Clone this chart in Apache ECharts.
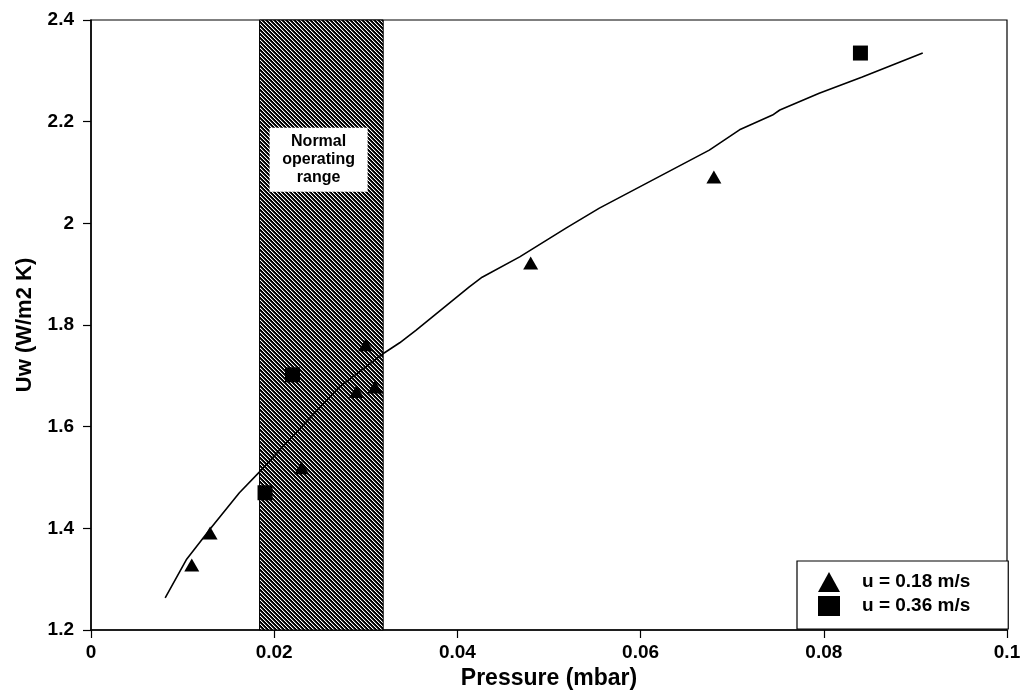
<!DOCTYPE html>
<html>
<head>
<meta charset="utf-8">
<script src="https://cdn.jsdelivr.net/npm/echarts@6/dist/echarts.min.js"></script>
<style>
html,body{margin:0;padding:0;background:#fff;}
#chart{width:1024px;height:695px;}
</style>
</head>
<body>
<div id="chart"></div>
<script>
// ---- data ----
var xTicks = [0, 0.02, 0.04, 0.06, 0.08, 0.1];
var yTicks = [1.2, 1.4, 1.6, 1.8, 2, 2.2, 2.4];
var seriesNames = ['u = 0.18 m/s', 'u = 0.36 m/s'];
var triX = [0.011, 0.013, 0.023, 0.029, 0.031, 0.030, 0.048, 0.068];
var triY = [1.328, 1.391, 1.519, 1.669, 1.678, 1.761, 1.922, 2.091];
var sqX = [0.019, 0.022, 0.084];
var sqY = [1.470, 1.702, 2.335];
var fitX = [0.0081, 0.0104, 0.0132, 0.0162, 0.0184, 0.0206, 0.0271, 0.0320, 0.0337, 0.0355, 0.0413, 0.0427, 0.0468, 0.0519, 0.0555, 0.0675, 0.0708, 0.0744, 0.0752, 0.0795, 0.0842, 0.0908];
var fitY = [1.263, 1.338, 1.403, 1.470, 1.511, 1.554, 1.678, 1.745, 1.765, 1.790, 1.875, 1.894, 1.934, 1.991, 2.030, 2.144, 2.184, 2.213, 2.223, 2.256, 2.288, 2.335];
var bandRange = [0.0184, 0.0319];
var bandLabel = 'Normal\noperating\nrange';
var labelBoxX = [0.0195, 0.0302];
var labelBoxY = [2.062, 2.188];

function zip(a, b) { return a.map(function (v, i) { return [v, b[i]]; }); }

// hatch pattern
var pc = document.createElement('canvas');
pc.width = 8; pc.height = 8;
var pctx = pc.getContext('2d');
var img = pctx.createImageData(8, 8);
for (var y = 0; y < 8; y++) {
  for (var x = 0; x < 8; x++) {
    var m = ((x - y) % 4 + 4) % 4;
    var v = m === 0 ? 255 : (m === 1 ? 70 : 0);
    var k = (y * 8 + x) * 4;
    img.data[k] = v; img.data[k + 1] = v; img.data[k + 2] = v; img.data[k + 3] = 255;
  }
}
pctx.putImageData(img, 0, 0);

var FONT = '"Liberation Sans", Arial, Helvetica, sans-serif';
var chart = echarts.init(document.getElementById('chart'), null, { renderer: 'canvas' });
chart.setOption({
  animation: false,
  backgroundColor: '#fff',
  textStyle: { fontFamily: FONT },
  grid: { left: 91, right: 17, top: 20, bottom: 65, show: true, borderColor: '#000', borderWidth: 1.2, backgroundColor: 'transparent' },
  xAxis: {
    type: 'value', min: xTicks[0], max: xTicks[xTicks.length - 1], interval: 0.02,
    name: 'Pressure (mbar)', nameLocation: 'middle', nameGap: 30,
    nameTextStyle: { fontSize: 23, fontWeight: 'bold', color: '#000', fontFamily: FONT },
    axisLine: { lineStyle: { color: '#000', width: 1.5 } },
    axisTick: { length: 8, lineStyle: { color: '#000', width: 1.2 } },
    axisLabel: { fontSize: 19, fontWeight: 'bold', color: '#000', margin: 13, fontFamily: FONT },
    splitLine: { show: false }
  },
  yAxis: {
    type: 'value', min: yTicks[0], max: yTicks[yTicks.length - 1], interval: 0.2,
    name: 'Uw (W/m2 K)', nameLocation: 'middle', nameGap: 55, nameRotate: 90,
    nameTextStyle: { fontSize: 22, fontWeight: 'bold', color: '#000', fontFamily: FONT },
    axisLine: { lineStyle: { color: '#000', width: 1.5 } },
    axisTick: { length: 8, lineStyle: { color: '#000', width: 1.2 } },
    axisLabel: { fontSize: 19, fontWeight: 'bold', color: '#000', margin: 17, fontFamily: FONT },
    splitLine: { show: false }
  },
  legend: {
    orient: 'vertical', left: 797, top: 561,
    data: seriesNames,
    itemWidth: 22, itemHeight: 20, itemGap: 4,
    padding: [11, 38, 13, 21],
    borderColor: '#000', borderWidth: 1.2, backgroundColor: '#fff',
    textStyle: { fontSize: 19, fontWeight: 'bold', color: '#000', padding: [0, 0, 0, 17], width: 128, fontFamily: FONT }
  },
  series: [
    {
      name: 'fit', type: 'line', data: zip(fitX, fitY), showSymbol: false, symbol: 'none',
      lineStyle: { color: '#000', width: 1.6 }, z: 3,
      markArea: {
        silent: true,
        data: [
          [{ xAxis: bandRange[0], yAxis: yTicks[0], itemStyle: { color: { image: pc, repeat: 'repeat' }, borderColor: '#000', borderWidth: 1 } },
           { xAxis: bandRange[1], yAxis: yTicks[yTicks.length - 1] }],
          [{ xAxis: labelBoxX[0], yAxis: labelBoxY[0], name: bandLabel, itemStyle: { color: '#fff', borderWidth: 0 },
             label: { show: true, position: 'inside', fontSize: 16, fontWeight: 'bold', color: '#000', lineHeight: 18, fontFamily: FONT } },
           { xAxis: labelBoxX[1], yAxis: labelBoxY[1] }]
        ],
        label: { show: false }
      }
    },
    {
      name: seriesNames[0], type: 'scatter', data: zip(triX, triY),
      symbol: 'triangle', symbolSize: [15, 13], itemStyle: { color: '#000', opacity: 1 }, z: 4
    },
    {
      name: seriesNames[1], type: 'scatter', data: zip(sqX, sqY),
      symbol: 'rect', symbolSize: [15, 15], itemStyle: { color: '#000', opacity: 1 }, z: 4
    }
  ]
});
</script>
</body>
</html>
